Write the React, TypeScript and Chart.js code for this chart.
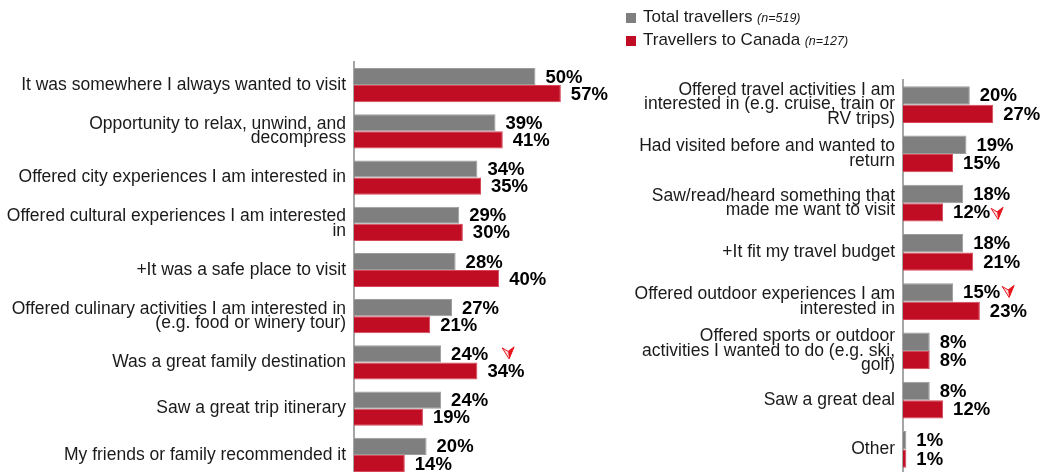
import React, { useEffect, useRef } from "react";
import { Chart, registerables } from "chart.js";

Chart.register(...registerables);

const leftCategories: (string | string[])[] = [
  "It was somewhere I always wanted to visit",
  ["Opportunity to relax, unwind, and", "decompress"],
  "Offered city experiences I am interested in",
  ["Offered cultural experiences I am interested", "in"],
  "+It was a safe place to visit",
  ["Offered culinary activities I am interested in", "(e.g. food or winery tour)"],
  "Was a great family destination",
  "Saw a great trip itinerary",
  "My friends or family recommended it",
];
const leftTotal = [50, 39, 34, 29, 28, 27, 24, 24, 20];
const leftCanada = [57, 41, 35, 30, 40, 21, 34, 19, 14];

const rightCategories: (string | string[])[] = [
  ["Offered travel activities I am", "interested in (e.g. cruise, train or", "RV trips)"],
  ["Had visited before and wanted to", "return"],
  ["Saw/read/heard something that", "made me want to visit"],
  "+It fit my travel budget",
  ["Offered outdoor experiences I am", "interested in"],
  ["Offered sports or outdoor", "activities I wanted to do (e.g. ski,", "golf)"],
  "Saw a great deal",
  "Other",
];
const rightTotal = [20, 19, 18, 18, 15, 8, 8, 1];
const rightCanada = [27, 15, 12, 21, 23, 8, 12, 1];

const seriesNames = ["Total travellers", "Travellers to Canada"];
const sampleSizes = ["(n=519)", "(n=127)"];

// significance markers: which dataset / category gets an arrow
const leftMarkers = [{ dataset: 0, index: 6, gap: 20, dy: -2 }];
const rightMarkers = [
  { dataset: 1, index: 2, gap: 7, dy: 0 },
  { dataset: 0, index: 4, gap: 8, dy: -2 },
];

const FONT = '"Liberation Sans", Arial, Helvetica, sans-serif';
const GRAY = "#7f7f7f";
const RED = "#c00d23";
const GRAY_EDGE = "#9c9c9c";
const RED_EDGE = "#d6485a";

function drawArrow(ctx: CanvasRenderingContext2D, cx: number, cy: number) {
  ctx.save();
  ctx.translate(cx, cy);
  ctx.beginPath();
  ctx.moveTo(-6, -5);
  ctx.lineTo(0, -1.5);
  ctx.lineTo(6, -6);
  ctx.lineTo(1, 6);
  ctx.closePath();
  ctx.fillStyle = "rgba(255,80,80,0.2)";
  ctx.fill();
  ctx.strokeStyle = "#e8141c";
  ctx.lineWidth = 1;
  ctx.stroke();
  ctx.beginPath();
  ctx.moveTo(0, -1.5);
  ctx.lineTo(6, -6);
  ctx.lineTo(1, 6);
  ctx.closePath();
  ctx.fillStyle = "#e8141c";
  ctx.fill();
  ctx.restore();
}

const valueLabelPlugin = {
  id: "valueLabels",
  afterDatasetsDraw(chart: any, _args: any, opts: any) {
    const ctx: CanvasRenderingContext2D = chart.ctx;
    ctx.save();
    ctx.font = `bold 18.5px ${FONT}`;
    ctx.fillStyle = "#000000";
    ctx.textAlign = "left";
    ctx.textBaseline = "middle";
    chart.data.datasets.forEach((ds: any, di: number) => {
      const meta = chart.getDatasetMeta(di);
      meta.data.forEach((bar: any, i: number) => {
        const text = ds.data[i] + "%";
        const x = bar.x + opts.offset;
        const y = bar.y + 1;
        ctx.fillText(text, x, y);
        const m = (opts.markers || []).find((mk: any) => mk.dataset === di && mk.index === i);
        if (m) {
          const w = ctx.measureText(text).width;
          drawArrow(ctx, x + w + m.gap, y + m.dy);
        }
      });
    });
    ctx.restore();
  },
};

function makeConfig(
  labels: (string | string[])[],
  total: number[],
  canada: number[],
  o: { max: number; axisWidth: number; top: number; bottom: number; catPct: number; markers: any[] }
): any {
  return {
    type: "bar",
    data: {
      labels,
      datasets: [
        {
          label: seriesNames[0],
          data: total,
          backgroundColor: GRAY,
          borderColor: GRAY_EDGE,
          borderWidth: 1,
          borderSkipped: "start",
          categoryPercentage: o.catPct,
          barPercentage: 1,
        },
        {
          label: seriesNames[1],
          data: canada,
          backgroundColor: RED,
          borderColor: RED_EDGE,
          borderWidth: 1,
          borderSkipped: "start",
          categoryPercentage: o.catPct,
          barPercentage: 1,
        },
      ],
    },
    options: {
      indexAxis: "y",
      responsive: false,
      maintainAspectRatio: false,
      animation: false,
      layout: { padding: { top: o.top, bottom: o.bottom, left: 0, right: 0 } },
      scales: {
        x: { display: false, min: 0, max: o.max },
        y: {
          grid: { display: false, drawTicks: false },
          border: { display: true, color: "#a6a6a6", width: 2 },
          ticks: {
            color: "#1a1a1a",
            padding: 8,
            autoSkip: false,
            font: { family: FONT, size: 17.5, lineHeight: 0.83 },
          },
          afterFit: (scale: any) => {
            scale.width = o.axisWidth;
            scale.paddingTop = 0;
            scale.paddingBottom = 0;
          },
        },
      },
      plugins: {
        legend: { display: false },
        tooltip: { enabled: false },
        valueLabels: { offset: 10, markers: o.markers },
      },
    },
    plugins: [valueLabelPlugin],
  };
}

export default function App() {
  const leftRef = useRef<HTMLCanvasElement>(null);
  const rightRef = useRef<HTMLCanvasElement>(null);

  useEffect(() => {
    const left = new Chart(
      leftRef.current as HTMLCanvasElement,
      makeConfig(leftCategories, leftTotal, leftCanada, {
        max: 73.3,
        axisWidth: 354,
        top: 62,
        bottom: 12,
        catPct: 0.74,
        markers: leftMarkers,
      })
    );
    const right = new Chart(
      rightRef.current as HTMLCanvasElement,
      makeConfig(rightCategories, rightTotal, rightCanada, {
        max: 41.6,
        axisWidth: 303,
        top: 80,
        bottom: 16,
        catPct: 0.75,
        markers: rightMarkers,
      })
    );
    return () => {
      left.destroy();
      right.destroy();
    };
  }, []);

  const legendColors = [GRAY, RED];

  return (
    <div
      style={{
        position: "fixed",
        left: 0,
        top: 0,
        width: 1042,
        height: 472,
        overflow: "hidden",
        background: "#ffffff",
        fontFamily: FONT,
      }}
    >
      <canvas
        ref={leftRef}
        width={620}
        height={490}
        style={{ position: "absolute", left: 0, top: 0, width: 620, height: 490 }}
      />
      <canvas
        ref={rightRef}
        width={442}
        height={490}
        style={{ position: "absolute", left: 600, top: 0, width: 442, height: 490 }}
      />
      {seriesNames.map((name, i) => (
        <div
          key={name}
          style={{
            position: "absolute",
            left: 626,
            top: 5 + i * 23,
            height: 23,
            lineHeight: "23px",
            whiteSpace: "nowrap",
            color: "#1a1a1a",
          }}
        >
          <span
            style={{
              display: "inline-block",
              width: 10,
              height: 10,
              background: legendColors[i],
              marginRight: 7,
              verticalAlign: "-1px",
            }}
          />
          <span style={{ fontSize: 17 }}>{name}</span>{" "}
          <span style={{ fontSize: 12.5, fontStyle: "italic" }}>{sampleSizes[i]}</span>
        </div>
      ))}
    </div>
  );
}
